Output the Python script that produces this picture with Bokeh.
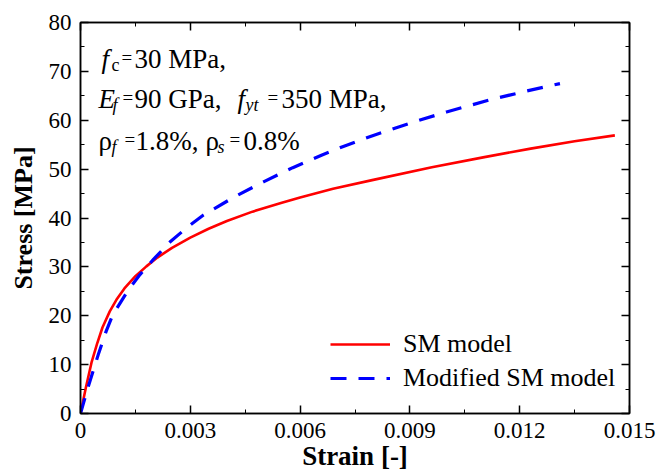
from bokeh.plotting import figure
from bokeh.models import (Range1d, FixedTicker, LinearAxis, Label, Legend, LegendItem)
from bokeh.embed import file_html
from bokeh.resources import INLINE

# ---------------- data ----------------
sm_strain = [0, 0.00015, 0.0003, 0.00045, 0.0006, 0.0008, 0.001, 0.0012, 0.0015, 0.0018,
             0.0021, 0.0025, 0.003, 0.0035, 0.004, 0.0047, 0.0055, 0.006, 0.0069, 0.008,
             0.0096, 0.011, 0.0123, 0.0135, 0.0146]
sm_stress = [0, 5.4, 10.4, 14.2, 17.6, 20.9, 23.5, 25.6, 28.1, 30.1,
             31.9, 33.9, 36.0, 37.8, 39.4, 41.3, 43.1, 44.2, 46.0, 47.8,
             50.4, 52.4, 54.2, 55.7, 56.9]

msm_strain = [0, 0.0002, 0.0005, 0.0007, 0.00085, 0.001, 0.0013, 0.0016, 0.002, 0.00246,
              0.0029, 0.00336, 0.0042, 0.005, 0.0058, 0.0066, 0.0072, 0.008, 0.009, 0.01,
              0.0112, 0.0122, 0.0131]
msm_stress = [0, 5.2, 12.4, 16.8, 19.6, 21.6, 25.2, 28.2, 31.6, 35.2,
              38.0, 40.6, 44.3, 47.4, 50.3, 52.9, 54.7, 56.9, 59.4, 61.7,
              64.2, 66.0, 67.5]

x_ticks = [0, 0.003, 0.006, 0.009, 0.012, 0.015]
x_tick_labels = ["0", "0.003", "0.006", "0.009", "0.012", "0.015"]
x_minor = [0.0015, 0.0045, 0.0075, 0.0105, 0.0135]
y_ticks = [0, 10, 20, 30, 40, 50, 60, 70, 80]
y_tick_labels = ["0", "10", "20", "30", "40", "50", "60", "70", "80"]
y_minor = [5, 15, 25, 35, 45, 55, 65, 75]

series_labels = ["SM model", "Modified SM model"]
x_title = "Strain [-]"
y_title = "Stress [MPa]"

FONT = "Liberation Serif"

p = figure(width=659, height=473, output_backend="svg", toolbar_location=None,
           x_range=Range1d(0, 0.015), y_range=Range1d(0, 80),
           min_border_left=80, min_border_right=30, min_border_top=22, min_border_bottom=60)
p.background_fill_color = "white"
p.border_fill_color = "white"
p.outline_line_color = "black"
p.outline_line_width = 1.5
p.xgrid.visible = False
p.ygrid.visible = False

xt = FixedTicker(ticks=x_ticks, minor_ticks=x_minor)
yt = FixedTicker(ticks=y_ticks, minor_ticks=y_minor)

def style_axis(ax, labels, show_labels=True):
    ax.major_tick_in = 8
    ax.major_tick_out = 0
    ax.minor_tick_in = 4
    ax.minor_tick_out = 0
    ax.axis_line_color = "black"
    ax.axis_line_width = 1.5
    ax.major_tick_line_width = 1.5
    ax.minor_tick_line_width = 1
    ax.major_label_text_font = FONT
    ax.major_label_text_color = "black"
    ax.axis_label_text_color = "black"
    if show_labels:
        ax.major_label_text_font_size = "23px"
        ax.major_label_overrides = labels
    else:
        ax.major_label_text_font_size = "1px"
        ax.major_label_overrides = labels
        ax.major_label_standoff = 0

xa = p.xaxis[0]
xa.ticker = xt
style_axis(xa, {t: l for t, l in zip(x_ticks, x_tick_labels)})
xa.major_label_standoff = 9
xa.axis_label = x_title
xa.axis_label_text_font = FONT
xa.axis_label_text_font_style = "bold"
xa.axis_label_text_font_size = "27px"
xa.axis_label_standoff = 0

ya = p.yaxis[0]
ya.ticker = yt
style_axis(ya, {t: l for t, l in zip(y_ticks, y_tick_labels)})
ya.major_label_standoff = 9
ya.axis_label = y_title
ya.axis_label_text_font = FONT
ya.axis_label_text_font_style = "bold"
ya.axis_label_text_font_size = "26px"
ya.axis_label_standoff = 8

top_ax = LinearAxis(ticker=xt)
style_axis(top_ax, {t: "" for t in x_ticks}, show_labels=False)
p.add_layout(top_ax, "above")
right_ax = LinearAxis(ticker=yt)
style_axis(right_ax, {t: "" for t in y_ticks}, show_labels=False)
p.add_layout(right_ax, "right")

r1 = p.line(sm_strain, sm_stress, line_color="#ff0000", line_width=2.6, line_join="round")
r2 = p.line(msm_strain, msm_stress, line_color="#0000ff", line_width=3.2, line_dash="16 12")

legend = Legend(items=[LegendItem(label=series_labels[0], renderers=[r1]),
                       LegendItem(label=series_labels[1], renderers=[r2])],
                location=(250, 20))
legend.label_text_font = FONT
legend.label_text_font_size = "26px"
legend.label_text_color = "black"
legend.glyph_width = 60
legend.glyph_height = 24
legend.label_height = 24
legend.label_standoff = 13
legend.spacing = 4
legend.padding = 0
legend.margin = 0
legend.border_line_alpha = 0
legend.background_fill_alpha = 0
p.add_layout(legend, "center")

# ------------- annotation (frame-relative screen units) -------------
FL, FB = 80, 413  # frame left / bottom in canvas pixels

def txt(s, cx, cy, size, style="normal"):
    p.add_layout(Label(x=cx - FL, y=FB - cy, x_units="screen", y_units="screen",
                       text=s, text_font=FONT, text_font_size=f"{size}px",
                       text_font_style=style, text_color="black",
                       text_baseline="alphabetic", text_align="left"))

# line 1
txt("f", 101, 58, 27, "italic")
txt("c", 111, 64, 18)
txt("=", 121, 57, 19)
txt("30 MPa,", 134, 58, 27)
# line 2
txt("E", 98, 98, 27, "italic")
txt("f", 112, 104, 18, "italic")
txt("=", 122, 97, 19)
txt("90 GPa,", 134, 98, 27)
txt("f", 237, 98, 27, "italic")
txt("yt", 245, 104, 18, "italic")
txt("=", 267, 97, 19)
txt("350 MPa,", 281, 98, 27)
# line 3
txt("\u03c1", 98, 140, 27)
txt("f", 111, 146, 18, "italic")
txt("=", 124, 139, 19)
txt("1.8%,", 135, 140, 27)
txt("\u03c1", 205, 140, 27)
txt("s", 217, 146, 18, "italic")
txt("=", 229, 139, 19)
txt("0.8%", 243, 140, 27)

open("out.html", "w").write(file_html(p, INLINE))
